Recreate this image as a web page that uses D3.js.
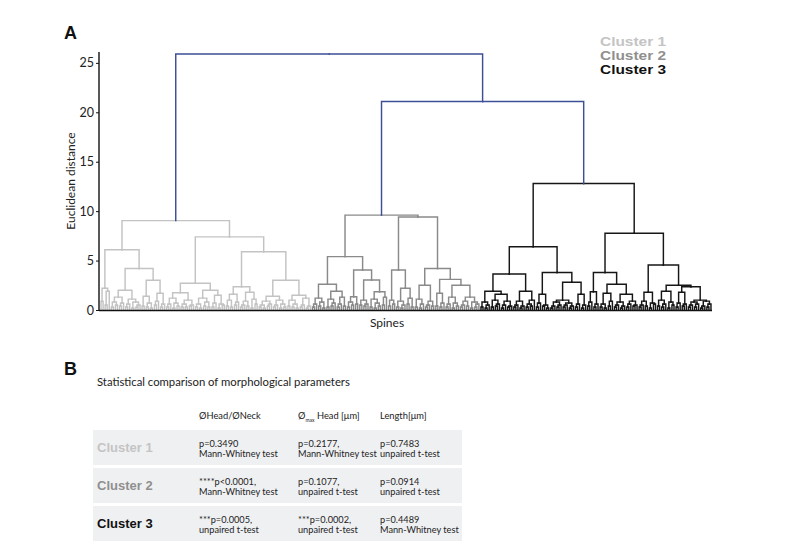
<!DOCTYPE html>
<html><head><meta charset="utf-8">
<script src="https://cdn.jsdelivr.net/npm/d3@7"></script>
<style>body{margin:0;background:#fff}svg{display:block}</style>
</head><body>
<svg id="chart" width="792" height="542"></svg>
<script>
// ---------- DATA ----------
const clusterNames = ["Cluster 1", "Cluster 2", "Cluster 3"];
const yTicks = [0, 5, 10, 15, 20, 25];
const topMergeHeights = [21.1, 25.9]; // (Cluster2,Cluster3), then (Cluster1, rest)

// Dendrogram subtrees, newick-like: x = leaf, (a,b)h = merge at Euclidean distance h
const c1A1 = "((x,x)0.9,((x,x)0.5,x)1.9)2.2";
const c1A2a = "((((x,x)0.3,(x,x)0.5)0.8,((x,x)0.4,x)0.7)1.3,(((x,x)0.3,x)0.6,((x,x)0.2,((x,x)0.3,x)0.5)0.8)1.1)2.0";
const c1A2b = "(((x,x)0.4,((x,x)0.3,(x,x)0.2)0.7)1.4,(((x,x)0.5,x)0.9,((x,x)0.3,x)0.6)1.7)3.0";
const c1B1a = "((((x,x)0.3,x)0.6,((x,x)0.2,(x,x)0.4)0.7)1.2,(((x,x)0.3,(x,x)0.3)0.6,((x,x)0.4,x)0.5)1.0)1.75";
const c1B1b = "((((x,x)0.3,(x,x)0.2)0.6,((x,x)0.4,(x,x)0.3)0.8)1.2,(((x,x)0.3,x)0.7,((x,x)0.2,(x,x)0.5)0.6)1.5)2.0";
const c1B2a = "((((x,x)0.4,(x,x)0.3)1.0,((x,x)0.5,x)0.8)1.6,((((x,x)0.3,x)0.5,(x,x)0.4)0.9,((x,x)0.2,(x,x)0.6)1.1)1.8)2.36";
const c1B2bL = "((((x,x)0.3,(x,x)0.2)0.5,((x,x)0.4,x)0.6)0.9,(((x,x)0.3,x)0.5,((x,x)0.2,(x,x)0.3)0.6)1.0)1.4";
const c1B2bR = "(((x,x)0.4,((x,x)0.3,(x,x)0.2)0.6)1.0,(((x,x)0.3,x)0.5,((x,x)0.2,x)0.4)1.2)1.5";
const cluster1Tree = `((${c1A1},(${c1A2a},${c1A2b})4.2)6.1,((${c1B1a},${c1B1b})2.7,(${c1B2a},(${c1B2bL},${c1B2bR})3.0)5.9)7.4)9.04`;

const c2LLa = "(((x,x)0.3,x)0.6,((x,x)0.4,(x,x)0.2)0.8)1.2";
const c2LLb = "(((x,x)0.3,((x,x)0.4,x)0.7)1.1,(((x,x)0.3,x)0.6,(x,x)0.4)1.3)1.9";
const c2LRa = "(((x,x)0.3,(x,x)0.5)0.8,(x,x)0.6)1.35";
const c2LRb1 = "((x,x)0.5,((x,x)0.4,x)0.6)1.0";
const c2LRb2 = "(((x,x)0.3,((x,x)0.2,(x,x)0.4)0.7)1.1,((x,x)0.5,x)1.3)1.85";
const c2RLa = "((x,x)0.4,(x,x)0.6)1.0";
const c2RLb = "(((x,x)0.3,((x,x)0.2,x)0.5)0.9,((x,x)0.6,(x,x)0.3)1.2)2.2";
const c2RRa = "(((x,x)0.3,((x,x)0.2,x)0.6)1.1,(((x,x)0.3,x)0.5,(x,x)0.4)0.9)2.5";
const c2RRb1 = "((x,x)0.4,((x,x)0.3,x)0.7)1.7";
const c2RRb2 = "((((x,x)0.3,x)0.6,((x,x)0.2,(x,x)0.4)0.7)1.3,((((x,x)0.3,x)0.5,(x,x)0.4)0.9,((x,x)0.2,((x,x)0.3,x)0.6)0.8)1.3)2.5";
const cluster2Tree = `(((${c2LLa},${c2LLb})2.6,(${c2LRa},(${c2LRb1},${c2LRb2})3.04)4.05)5.4,((${c2RLa},${c2RLb})4.05,(${c2RRa},(${c2RRb1},${c2RRb2})3.1)4.2)9.4)9.6`;

const c3LL1a = "((x,x)0.3,((x,x)0.2,x)0.5)0.8";
const c3LL1b = "(((x,x)0.3,((x,x)0.4,x)0.6)1.0,(((x,x)0.2,x)0.5,((x,x)0.3,x)0.4)0.9)1.6";
const c3LL2 = "((((x,x)0.3,x)0.5,((x,x)0.2,x)0.4)0.9,(((x,x)0.3,(x,x)0.4)0.6,x)1.0)1.9";
const c3LRa = "(((x,x)0.3,x)0.7,((x,x)0.4,(x,x)0.2)0.5)1.6";
const c3LRb1 = "((((x,x)0.2,x)0.4,((x,x)0.3,x)0.5)0.8,(((x,x)0.3,x)0.5,((x,x)0.2,x)0.4)0.7)1.0";
const c3LRb2 = "(((x,x)0.3,x)0.6,((x,x)0.2,x)0.5)1.6";
const c3RLa = "(((x,x)0.4,x)0.8,((x,x)0.3,x)0.6)1.85";
const c3RLb1 = "(((x,x)0.3,(x,x)0.2)0.6,((x,x)0.4,x)0.9)1.7";
const c3RLb2 = "((((x,x)0.3,x)0.5,((x,x)0.2,x)0.4)0.8,(((x,x)0.3,x)0.6,((x,x)0.4,x)0.5)0.9)1.6";
const c3RRa = "((((x,x)0.3,x)0.5,(x,x)0.4)0.9,((x,x)0.2,(x,x)0.6)0.7)1.8";
const c3RRb1 = "(((x,x)0.4,((x,x)0.3,x)0.6)1.0,((x,x)0.2,(x,x)0.5)0.8)1.9";
const c3RRb2a = "(((x,x)0.3,x)0.7,((x,x)0.4,x)0.6)1.8";
const c3RRb2b = "((((x,x)0.3,x)0.5,((x,x)0.3,x)0.6)0.8,(((x,x)0.2,x)0.4,((x,x)0.3,x)0.6)0.9)1.0";
const cluster3Tree = `((((${c3LL1a},${c3LL1b})1.9,${c3LL2})3.64,(${c3LRa},(${c3LRb1},${c3LRb2})2.8)3.8)6.4,((${c3RLa},(${c3RLb1},${c3RLb2})2.6)3.8,(${c3RRa},(${c3RRb1},(${c3RRb2a},${c3RRb2b})2.36)2.5)4.55)7.76)12.8`;

// Table B
const tableColumns = ["ØHead/ØNeck", "Ø_max Head [μm]", "Length[μm]"];
const tableRows = [
  ["p=0.3490|Mann-Whitney test", "p=0.2177,|Mann-Whitney test", "p=0.7483|unpaired t-test"],
  ["****p<0.0001,|Mann-Whitney test", "p=0.1077,|unpaired t-test", "p=0.0914|unpaired t-test"],
  ["***p=0.0005,|unpaired t-test", "***p=0.0002,|unpaired t-test", "p=0.4489|Mann-Whitney test"]
];

// ---------- STYLE ----------
const clusterLinkColors = ["#c3c3c3", "#8a8a8a", "#161616"];
const clusterLabelColors = ["#c4c4c4", "#8f8f8f", "#111111"];
const topColor = "#3d4f96";
const bodyFont = "Lato, 'Noto Sans', sans-serif";
const boldFont = "'Liberation Sans', Arial, sans-serif";

// ---------- PARSER ----------
function parseTree(s) {
  let i = 0;
  function node() {
    if (s[i] === "x") { i++; return { h: 0 }; }
    i++; // (
    const children = [node()];
    while (s[i] === ",") { i++; children.push(node()); }
    i++; // )
    const j = i;
    while (i < s.length && /[0-9.]/.test(s[i])) i++;
    return { h: +s.slice(j, i), children };
  }
  return node();
}

const clusterTrees = [cluster1Tree, cluster2Tree, cluster3Tree].map((t, k) => {
  const n = parseTree(t); n.cluster = k; return n;
});
const rootData = {
  h: topMergeHeights[1],
  children: [clusterTrees[0], { h: topMergeHeights[0], children: [clusterTrees[1], clusterTrees[2]] }]
};

const root = d3.hierarchy(rootData);
d3.cluster().size([1, 1]).separation(() => 1)(root);
root.each(d => {
  if (d.data.cluster !== undefined) d.cl = d.data.cluster;
  else if (d.parent && d.parent.cl !== undefined) d.cl = d.parent.cl;
});

// ---------- DRAW ----------
const svg = d3.select("#chart");
svg.append("rect").attr("width", 792).attr("height", 542).attr("fill", "#fff");

const x = d3.scaleLinear().domain([0, 1]).range([100, 712]);
const y = d3.scaleLinear().domain([0, 26.1]).range([310, 52]);

// Panel label A
svg.append("text").attr("x", 64).attr("y", 39).text("A")
  .attr("font-family", boldFont).attr("font-weight", "bold").attr("font-size", 18).attr("fill", "#111");

// links
const links = root.descendants().filter(d => d.parent);
const g = svg.append("g").attr("fill", "none").attr("stroke-width", 1.45).attr("stroke-linecap", "square");
const order = l => (l.parent.cl === undefined ? 3 : l.parent.cl);
links.sort((a, b) => order(a) - order(b));
g.selectAll("path").data(links).join("path")
  .attr("d", d => `M${x(d.x)},${y(d.data.h)}V${y(d.parent.data.h)}H${x(d.parent.x)}`)
  .attr("stroke", d => d.parent.cl === undefined ? topColor : clusterLinkColors[d.parent.cl]);

// baseline
svg.append("line").attr("x1", 99).attr("x2", 712).attr("y1", 310.5).attr("y2", 310.5)
  .attr("stroke", "#111").attr("stroke-width", 1.6);

// y axis
const ax = svg.append("g").attr("transform", "translate(99,0)")
  .call(d3.axisLeft(y).tickValues(yTicks).tickSize(3).tickPadding(2));
ax.select(".domain").attr("d", `M0,${y(26.1)}V${y(0)}`).attr("stroke", "#111").attr("stroke-width", 1.4);
ax.selectAll(".tick line").attr("stroke", "#111");
ax.selectAll(".tick text").attr("font-family", bodyFont).attr("font-size", 12.5).attr("fill", "#222");

svg.append("text").attr("transform", "translate(75,181) rotate(-90)").attr("text-anchor", "middle")
  .attr("font-family", bodyFont).attr("font-size", 12).attr("fill", "#222").text("Euclidean distance");
svg.append("text").attr("x", 387).attr("y", 327).attr("text-anchor", "middle")
  .attr("font-family", bodyFont).attr("font-size", 12).attr("fill", "#222").text("Spines");

// legend
clusterNames.forEach((n, k) => {
  svg.append("text").attr("x", 600).attr("y", 46 + k * 13.8).text(n)
    .attr("font-family", boldFont).attr("font-weight", "bold").attr("font-size", 12)
    .attr("textLength", 66).attr("lengthAdjust", "spacingAndGlyphs")
    .attr("fill", clusterLabelColors[k]);
});

// ---------- TABLE B ----------
svg.append("text").attr("x", 64).attr("y", 375).text("B")
  .attr("font-family", boldFont).attr("font-weight", "bold").attr("font-size", 18).attr("fill", "#111");
svg.append("text").attr("x", 97).attr("y", 386).text("Statistical comparison of morphological parameters")
  .attr("font-family", bodyFont).attr("font-size", 11.3).attr("fill", "#222");

const colX = [199, 298, 380];
tableColumns.forEach((c, i) => {
  const t = svg.append("text").attr("x", colX[i]).attr("y", 419)
    .attr("font-family", bodyFont).attr("font-size", 9.3).attr("fill", "#222");
  if (c.includes("_")) {
    const [a, rest] = c.split("_");
    const sub = rest.split(" ")[0];
    t.append("tspan").text(a);
    t.append("tspan").attr("font-size", 5).attr("dy", 2.5).text(sub);
    t.append("tspan").attr("dy", -2.5).text(rest.slice(sub.length));
  } else t.text(c);
});

const rowY = [430, 468, 506];
tableRows.forEach((r, k) => {
  svg.append("rect").attr("x", 93).attr("y", rowY[k]).attr("width", 369).attr("height", 35)
    .attr("fill", "#eff0f2");
  svg.append("text").attr("x", 97).attr("y", rowY[k] + 22).text(clusterNames[k])
    .attr("font-family", boldFont).attr("font-weight", "bold").attr("font-size", 13)
    .attr("fill", clusterLabelColors[k]);
  r.forEach((cell, i) => {
    const lines = cell.split("|");
    lines.forEach((ln, j) => {
      svg.append("text").attr("x", colX[i]).attr("y", rowY[k] + 17 + j * 10).text(ln)
        .attr("font-family", bodyFont).attr("font-size", 9.2).attr("fill", "#222");
    });
  });
});
</script>
</body></html>
